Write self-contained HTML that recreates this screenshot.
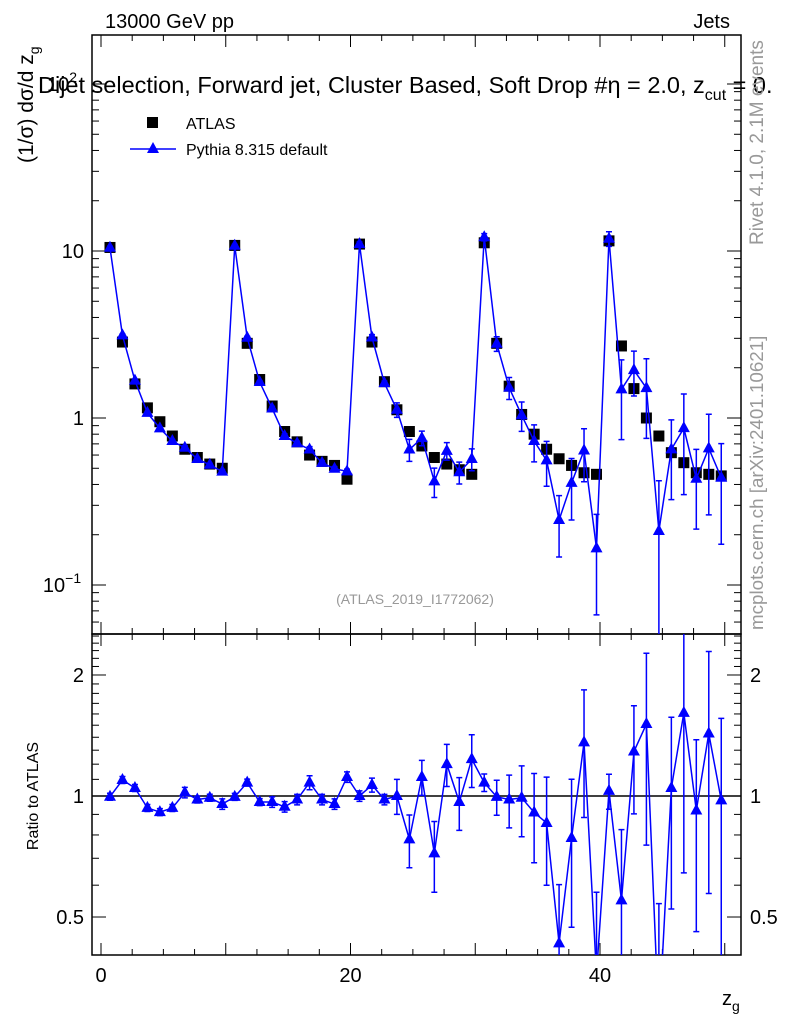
<!DOCTYPE html>
<html><head><meta charset="utf-8"><style>
html,body{margin:0;background:#fff;overflow:hidden;width:786px;height:1024px;}
svg{font-family:"Liberation Sans",sans-serif;display:block;}
</style></head><body>
<svg id="c" width="786" height="1024" xmlns="http://www.w3.org/2000/svg">
<text x="105" y="28" font-size="20">13000 GeV pp</text>
<text x="730" y="28" font-size="20" text-anchor="end">Jets</text>
<text x="38" y="93" font-size="23.5">Dijet selection, Forward jet, Cluster Based, Soft Drop #η = 2.0, z<tspan font-size="16" dy="7">cut</tspan><tspan dy="-7"> = 0.</tspan></text>
<text transform="translate(33,163) rotate(-90)" font-size="21">(1/σ) dσ/d z<tspan font-size="14" dy="6">g</tspan></text>
<text transform="translate(763,245) rotate(-90)" font-size="19" fill="#999">Rivet 4.1.0,  2.1M events</text>
<text transform="translate(763,630) rotate(-90)" font-size="18.8" fill="#999">mcplots.cern.ch [arXiv:2401.10621]</text>
<text x="415" y="604" font-size="14" fill="#999" text-anchor="middle">(ATLAS_2019_I1772062)</text>
<text transform="translate(38,796) rotate(-90)" font-size="16" text-anchor="middle">Ratio to ATLAS</text>
<text x="722" y="1005" font-size="20">z<tspan font-size="14" dy="6">g</tspan></text>
<rect x="147" y="117" width="11" height="11" fill="#000"/>
<text x="186" y="129" font-size="16">ATLAS</text>
<line x1="130" y1="149" x2="176" y2="149" stroke="#00f" stroke-width="1.5"/>
<polygon points="153,142 147,153 159,153" fill="#00f"/>
<text x="186" y="155" font-size="16">Pythia 8.315 default</text>
<g id="axes"></g><g id="marks"></g>
</svg>
<script>
const atlas=[10.5,2.85,1.6,1.15,0.95,0.78,0.65,0.58,0.53,0.50,10.8,2.8,1.7,1.18,0.83,0.72,0.60,0.55,0.52,0.43,11.0,2.85,1.65,1.12,0.83,0.68,0.58,0.53,0.49,0.46,11.2,2.8,1.55,1.05,0.80,0.65,0.57,0.52,0.47,0.46,11.5,2.7,1.5,1.0,0.78,0.62,0.54,0.47,0.46,0.45];
const ratio=[0.996,1.096,1.047,0.934,0.912,0.934,1.02,0.98,0.99,0.955,0.995,1.08,0.966,0.966,0.94,0.98,1.08,0.98,0.955,1.115,1.0,1.065,0.98,1.0,0.78,1.115,0.72,1.2,0.966,1.235,1.08,0.995,0.98,0.99,0.91,0.857,0.43,0.786,1.36,0.36,1.03,0.55,1.29,1.51,0.27,1.047,1.61,0.92,1.43,0.975];
const relErr=[0.02,0.02,0.02,0.02,0.02,0.02,0.03,0.02,0.02,0.03,0.02,0.02,0.02,0.03,0.03,0.03,0.04,0.03,0.03,0.03,0.03,0.04,0.03,0.1,0.15,0.1,0.2,0.12,0.15,0.15,0.05,0.1,0.15,0.2,0.25,0.3,0.4,0.4,0.35,0.6,0.1,0.5,0.3,0.5,1.0,0.5,0.6,0.5,0.6,0.6];
const xTicks=[0,20,40];
const mainTicks=[{v:100,l:"10",e:"2"},{v:10,l:"10",e:""},{v:1,l:"1",e:""},{v:0.1,l:"10",e:"−1"}];
const ratioTicks=[{v:2,l:"2"},{v:1,l:"1"},{v:0.5,l:"0.5"}];
const NS="http://www.w3.org/2000/svg";
const L=92,R=741,T=35,M=634,B=955;
const xs=v=>101+(v)*12.475;
const ym=v=>418-167*Math.log10(v);
const yr=v=>796-402*Math.log10(v);
function mk(t,a,p){const e=document.createElementNS(NS,t);for(const k in a)e.setAttribute(k,a[k]);(p||document.getElementById('marks')).appendChild(e);return e;}
const ax=document.getElementById('axes');
let e;
e=mk('rect',{x:L,y:T,width:R-L,height:M-T,fill:'none',stroke:'#000','stroke-width':1.5},ax);


e=mk('rect',{x:L,y:M,width:R-L,height:B-M,fill:'none',stroke:'#000','stroke-width':1.5},ax);


for(let v=0;v<=50;v+=2.5){const big=v%10==0;const x=xs(v);
 for(const [y0,y1] of [[M,M-(big?12:6)],[B,B-(big?12:6)],[T,T+(big?12:6)],[M,M+(big?12:6)]]){e=mk('line',{x1:x,x2:x,y1:y0,y2:y1,stroke:'#000'},ax);}}
xTicks.forEach(v=>{e=mk('text',{x:xs(v),y:982,'font-size':20,'text-anchor':'middle'},ax);e.textContent=v;});
for(let d=-2;d<=2;d++)for(let m=1;m<10;m++){const v=m*Math.pow(10,d);const y=ym(v);if(y<T||y>M)continue;const w=m==1?14:7;
 [[L,L+w],[R,R-w]].forEach(([a,b])=>{e=mk('line',{x1:a,x2:b,y1:y,y2:y,stroke:'#000'},ax);});}
mainTicks.forEach(t=>{e=mk('text',{x:t.e?62:84,y:ym(t.v)+7,'font-size':20,'text-anchor':t.e?'middle':'end'},ax);e.textContent=t.l;if(t.e){const s=mk('tspan',{'font-size':14,dy:-9},e);s.textContent=t.e;}});
for(let v=0.4;v<2.6;v+=0.1){const y=yr(v);if(y<M||y>B)continue;const big=Math.abs(v-0.5)<1e-6||Math.abs(v-1)<1e-6||Math.abs(v-2)<1e-6;const w=big?14:7;
 [[L,L+w],[R,R-w]].forEach(([a,b])=>{e=mk('line',{x1:a,x2:b,y1:y,y2:y,stroke:'#000'},ax);});}
ratioTicks.forEach(t=>{[[84,'end'],[750,'start']].forEach(([x,an])=>{e=mk('text',{x:x,y:yr(t.v)+7,'font-size':20,'text-anchor':an},ax);e.textContent=t.l;});});
e=mk('line',{x1:L,x2:R,y1:yr(1),y2:yr(1),stroke:'#000','stroke-width':1.5},ax);


const xv=atlas.map((_,i)=>i+0.72);
const py=atlas.map((a,i)=>a*ratio[i]);
const defs=mk('defs',{});
const c1=mk('clipPath',{id:'cm'},defs);mk('rect',{x:L,y:T,width:R-L,height:M-T},c1);
const c2=mk('clipPath',{id:'cr'},defs);mk('rect',{x:L,y:M,width:R-L,height:B-M},c2);
const gm=mk('g',{'clip-path':'url(#cm)'});
const gr=mk('g',{'clip-path':'url(#cr)'});
atlas.forEach((a,i)=>{e=mk('rect',{x:xs(xv[i])-5.5,y:ym(a)-5.5,width:11,height:11,fill:'#000'},gm);});
e=mk('polyline',{points:py.map((v,i)=>xs(xv[i])+','+ym(v)).join(' '),fill:'none',stroke:'#00f','stroke-width':1.5},gm);


e=mk('polyline',{points:ratio.map((v,i)=>xs(xv[i])+','+yr(v)).join(' '),fill:'none',stroke:'#00f','stroke-width':1.5},gr);


function errbar(g,x,y1,y2,name){e=mk('path',{d:`M${x},${y1}V${y2}M${x-3},${y1}H${x+3}M${x-3},${y2}H${x+3}`,stroke:'#00f','stroke-width':1.5,fill:'none'},g);}
function tri(g,x,y,name){e=mk('polygon',{points:`${x},${y-7} ${x-6},${y+4} ${x+6},${y+4}`,fill:'#00f'},g);}
py.forEach((v,i)=>{const x=xs(xv[i]);const er=relErr[i]*v;
 errbar(gm,x,ym(v+er),v-er>0?ym(v-er):M+5,'pythia-error');tri(gm,x,ym(v),'pythia-point');
 const r=ratio[i],re=relErr[i]*r;errbar(gr,x,yr(r+re),r-re>0?yr(r-re):B+5,'ratio-error');tri(gr,x,yr(r),'ratio-point');});
</script>
</body></html>
